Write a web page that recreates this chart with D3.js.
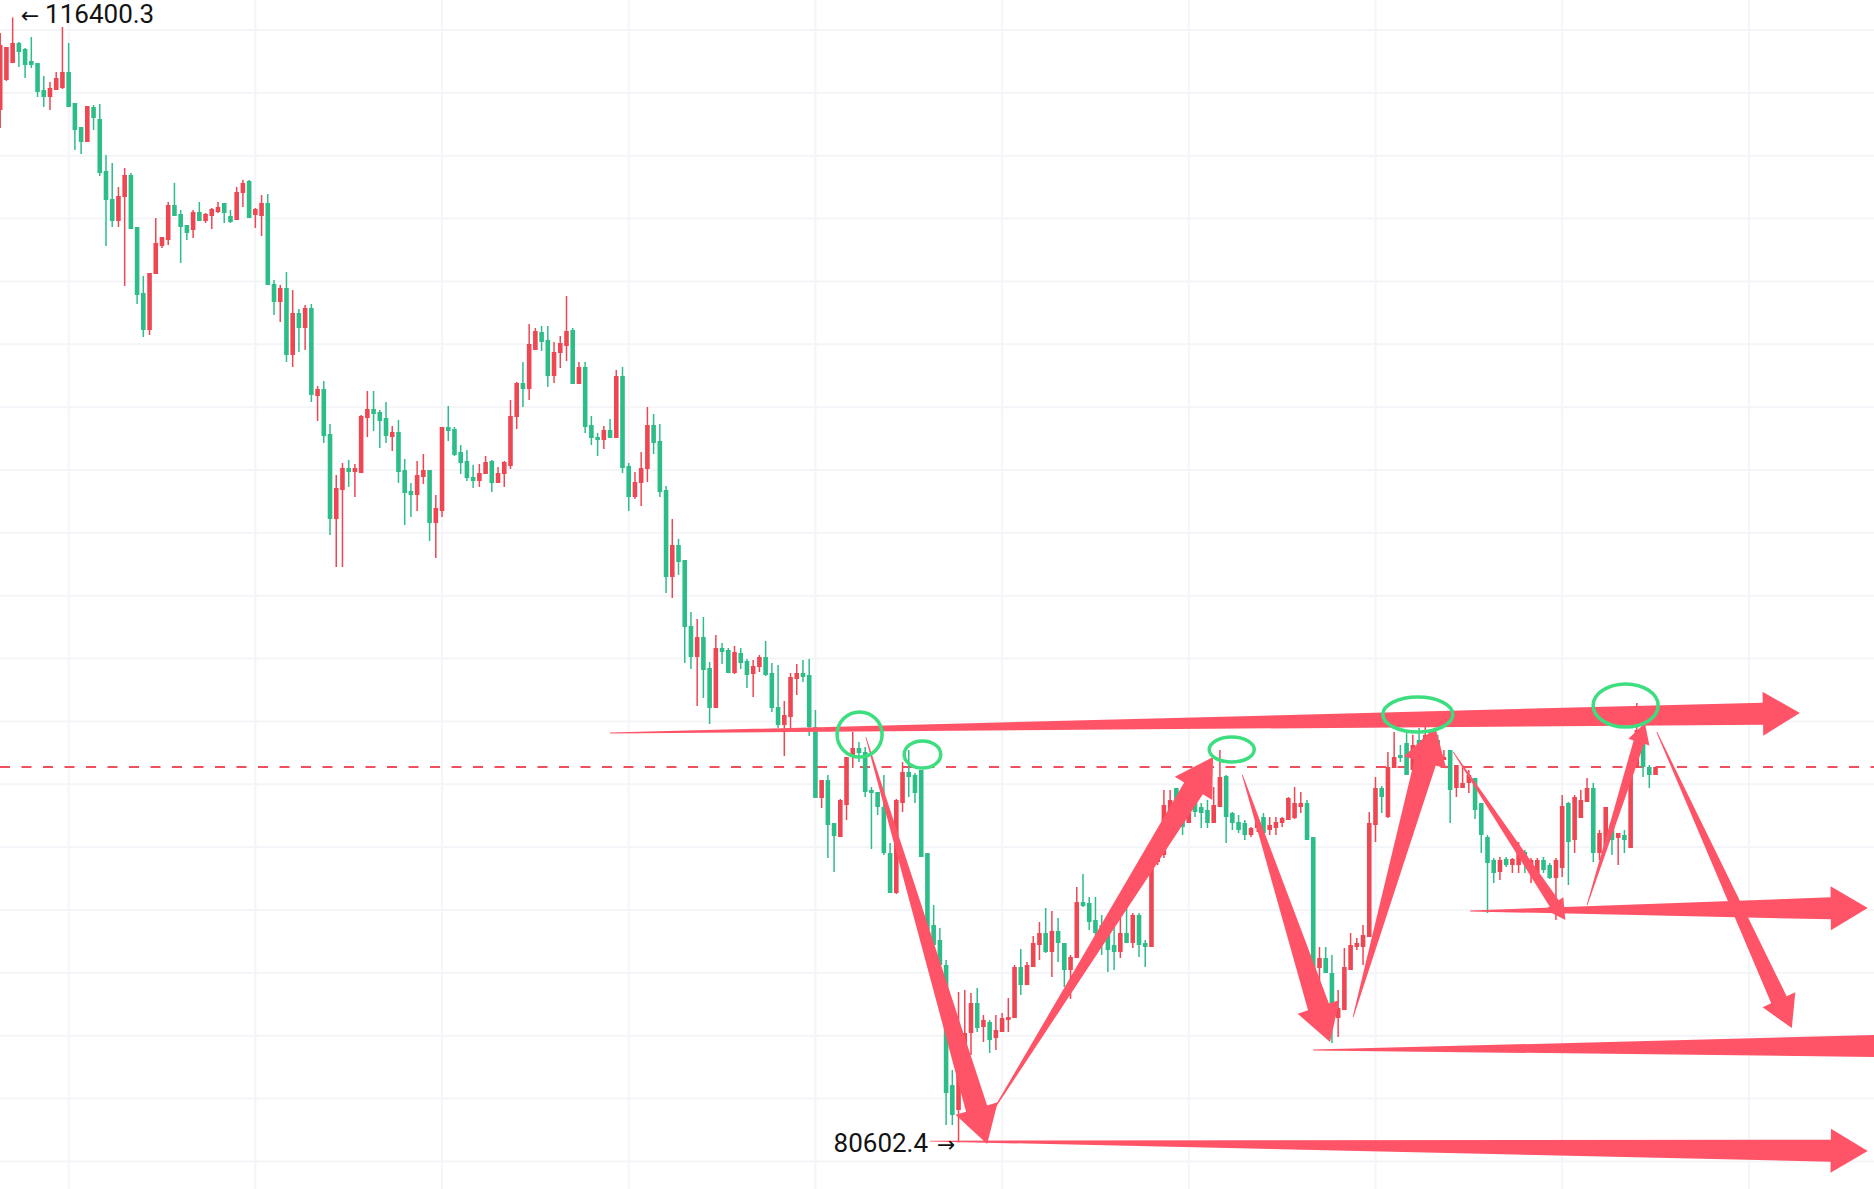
<!DOCTYPE html>
<html><head><meta charset="utf-8">
<script src="https://cdn.jsdelivr.net/npm/d3@7"></script>
<style>html,body{margin:0;padding:0;background:#fff;overflow:hidden}svg{display:block}</style>
</head><body>
<svg id="chart" width="1874" height="1189"></svg>
<script>
// ---- OHLC data (267 bars) ----
const open=[113455,114409,114950,115587,115396,115014,114950,114091,113868,114091,114155,114664,113677,112914,112437,113550,113168,111514,110623,109923,110686,111387,109732,107632,106454,108236,109127,109318,110432,110146,109796,109636,110209,109923,110082,110209,110496,110082,109955,110814,111196,110114,110082,110496,107918,107345,107791,105659,106995,106518,107155,104354,104577,103145,100440,101363,102063,101936,101904,103654,103941,103845,103654,103050,103209,101999,101332,101204,101777,101999,100313,100695,103368,103304,102573,102286,101777,101650,101872,102286,101586,101872,102127,103686,104768,104577,105818,106391,106136,104991,105722,105945,106454,104736,105277,103432,103050,102954,103273,103018,104991,102127,101141,101586,102031,103432,102922,101363,98595,99613,99136,97036,96050,96686,95699,94427,96336,96272,95540,96177,95922,95509,95731,96050,95540,94458,93886,94140,95350,95540,95477,93822,91563,92135,90767,90321,91340,92867,93153,93026,91818,91754,91277,89812,88540,91404,92390,92295,92454,89812,87521,87044,86249,82430,81635,83321,84085,85040,84276,84435,83926,84117,84499,84562,86185,85612,86185,86886,87267,86663,87331,86949,86090,86472,88253,88222,87681,87521,87267,86886,86663,87267,86949,87840,86949,86822,89526,89749,91022,91881,91181,90767,91595,91277,91181,90767,91277,92263,91086,90799,90767,90385,90608,90958,90544,90608,90767,90863,90927,91277,91404,90321,86153,86472,85994,84562,84817,86090,86822,86822,87140,90704,91881,90958,92517,92931,93313,92454,93408,92931,93663,93408,92772,93090,91881,91881,92040,92199,91404,90321,89590,89207,89622,89430,89430,89844,89176,89176,89590,89430,89017,89335,91404,90226,90927,91436,91881,89812,90003,90767,90290,90385,89971,92549,93504,92549,92295];
const high=[115905,115459,116400.3,115619,115428,115778,114950,114537,114346,114664,116096,115587,113677,112914,113582,113614,113646,112023,111768,111005,111609,111450,109732,108173,108268,110018,109414,110527,111132,110273,109796,110273,110527,110177,110337,110527,110496,110273,111005,111227,111227,110337,110750,110782,108045,107886,108300,107727,107123,107250,107282,104673,104832,103464,101841,102222,102318,102191,103750,104514,104514,103909,104164,103400,103591,102350,101586,102286,102509,101999,101204,103368,104036,103368,102795,102636,102159,102191,102445,102318,102095,102286,104227,104800,105436,106645,106518,106582,106582,106073,106264,107536,106518,105436,105436,103718,103177,103400,103623,105182,105277,102222,101936,102573,104004,103782,103464,101491,100440,99804,99136,97481,97259,97322,95890,96749,96495,96336,96400,96336,95985,95954,96113,96559,95858,95795,94649,95540,95827,95954,95985,94363,92135,92295,90767,91531,92867,93663,93344,93185,91913,91754,92295,90131,91531,92708,93090,92358,92454,89812,88158,87426,86408,82908,85390,85453,85358,85517,84658,84499,84658,84721,85199,86249,86758,86344,87172,87617,88063,87968,87744,86949,86567,88731,89144,88413,88413,87840,87521,87458,87904,88158,87904,87904,87044,89590,90067,91818,91818,91881,91181,91595,91722,91404,91499,91913,93090,92295,91117,91022,90863,90640,91022,91086,90958,90958,90958,91595,91913,91754,91499,90321,86822,86822,86567,85453,86790,87267,87108,87521,91117,92231,91945,93026,93663,93249,93663,93572,93790,93822,93726,93572,93090,93090,92613,92613,92454,92199,91404,90385,89653,89685,89685,89653,90162,89908,89653,89653,89685,89494,89653,91659,91436,91659,91818,92199,92040,90544,91277,90767,90449,90544,92677,94586,93822,92613,92549];
const low=[112882,114378,114950,114823,114473,114791,113868,113550,113455,114091,114123,113550,112182,112055,112437,112818,111355,109127,109732,109732,107855,109668,107282,106232,106296,108236,109064,109159,110082,108586,109318,109382,109923,109859,109668,110177,109859,109859,109955,110368,110018,109700,109445,107886,106932,106709,105436,105277,105754,105818,104164,103559,102859,99931,98913,98913,101459,101141,101904,103050,103241,102700,102859,102604,101586,100250,100504,100695,101554,99740,99199,100504,102922,102445,101872,101650,101427,101459,101872,101300,101586,101459,102031,103304,104004,104227,105818,105786,104641,104768,105245,105468,104736,104736,103177,102795,102445,102668,103018,103018,101904,100695,101077,100854,101618,102509,101141,98086,97927,98659,95858,95667,94490,94745,93918,94427,95827,95540,95509,95667,95063,94777,95572,95445,94299,93790,92899,93790,94840,95254,93536,91563,91245,89653,89207,90321,90863,92517,92708,91595,89940,91022,89749,88540,88508,91117,91595,91404,89685,86726,86726,86090,81157,81157,80602.4,83321,83385,84117,83799,83449,83544,84117,84117,84562,85294,85612,86185,86408,86631,85867,86344,85549,85167,86472,88094,87362,86822,86567,86026,86090,86472,86949,86790,86503,86185,86822,89430,89653,90958,90958,90385,90767,90958,90608,90608,90767,91277,90131,90544,90449,90226,90321,90481,90131,90385,90385,90640,90863,90895,91086,90226,86026,85708,85994,83767,83958,84817,86090,86726,86249,87140,90162,91086,90927,92517,92708,92295,92295,92454,92772,92708,92613,92772,90767,91595,91881,91722,90895,89812,87904,88857,88953,89367,89176,89176,89176,88857,88953,89176,88985,87681,89049,88794,89812,90927,91436,89526,89590,89908,89749,89430,89812,89971,92517,92231,91881,92295];
const close=[115523,115459,115587,115300,114887,114887,114028,113868,114155,114473,114664,113550,112818,112437,113582,113200,111450,110591,109923,110718,111387,109668,107568,106454,108268,109223,109414,110432,110082,109732,109541,110209,109923,110146,110305,110368,110177,109891,110846,111132,110018,110305,110496,107886,107345,107791,105659,106995,106518,107155,104386,104577,103082,100440,101427,102063,101936,102063,103718,103941,103782,103559,103082,103209,101936,101268,101204,101841,101999,100313,100790,103368,103241,102477,102222,101745,101650,101904,102254,101586,101904,102254,103718,104768,104577,106009,106422,106073,104991,105754,106041,106422,104736,105277,103368,103018,102954,103273,103018,104991,102063,101141,101618,102063,103432,102859,101300,98595,99613,99072,97004,96050,96686,95636,94427,96336,96209,95540,96209,95858,95477,95763,96050,95477,94427,93886,94204,95413,95540,95413,93822,91563,92135,90704,90353,91499,92867,93153,92995,91754,91722,91277,89812,88540,91499,92390,92231,91722,89685,87362,86886,86249,82176,81476,83862,84085,85040,84244,84499,83862,84181,84562,84594,86185,85612,86249,86949,87267,86663,87331,86949,86090,86503,88253,88126,87617,87267,87044,86726,86663,87267,86949,87840,86886,86822,89590,89812,91340,91499,91277,90640,91181,91117,91086,90767,91340,92231,90958,90767,90544,90385,90608,90863,90449,90704,90799,90927,91563,91404,91404,90226,86090,86472,85994,84594,84880,86185,86886,86949,87203,90767,91881,91595,92549,92867,92836,92295,93249,92772,93572,92995,92677,92867,91818,92613,92040,92295,91181,90385,89494,89176,89590,89430,89622,89844,89494,89590,89590,89271,89017,89590,91308,90162,91595,91499,91881,89812,90449,91277,90226,90449,90226,92613,93726,92549,92295,92549];

// price grid (every 2000) and time grid (every 30 bars)
const priceGrid=d3.range(80000,116001,2000);
const timeGrid=d3.range(11,300,30);

// hand-drawn annotations, in (bar index, price)
const arrowStart=[[98.0,93631],[236.2,87967],[211.0,83544],[149.4,80648],[139.1,93504],[159.4,81571],[199.6,92295],[217.4,84594],[233.5,93026],[255.0,88158],[266.2,93663]];
const arrowEnd=[[289.2,94267],[300.1,88062],[307.7,83681],[300.1,80330],[158.6,80553],[194.9,92867],[213.7,83799],[230.6,93822],[251.5,87681],[264.3,93949],[287.9,84244]];
const arrowKind=["big","big","big","big","big","big","big","big","thin","thin","mid"];
const ringCenter=[[138.1,93583],[148.2,92947],[197.9,93106],[227.8,94220],[261.2,94506]];

// ---- styles ----
const W=1874,H=1189;
const UP="#ef4653", DOWN="#2dbd88", ANNO="#ff5467", RING="#3cde80", GRID="#f3f5f8";
const arrowSize={big:{w:22,hw:44,hl:37},mid:{w:17,hw:36,hl:31},thin:{w:11,hw:22,hl:20}};
const ringRadius=[[22.5,22.5],[18.3,13.5],[22.5,12.5],[35,17.5],[32.5,21.5]];

const svg=d3.select("#chart");
svg.append("rect").attr("width",W).attr("height",H).attr("fill","#fff");
const x=d3.scaleLinear().domain([0,300]).range([0.2,1867.1]);
const y=d3.scaleLinear().domain([80000,116000]).range([1161.4,30]);

// grid
svg.append("g").selectAll("line").data(priceGrid).join("line")
  .attr("x1",0).attr("x2",W).attr("y1",d=>y(d)).attr("y2",d=>y(d))
  .attr("stroke",GRID).attr("stroke-width",2);
svg.append("g").selectAll("line").data(timeGrid).join("line")
  .attr("y1",0).attr("y2",H).attr("x1",d=>x(d)).attr("x2",d=>x(d))
  .attr("stroke",GRID).attr("stroke-width",2);

// last price line
const last=close[close.length-1];
svg.append("line").attr("x1",0).attr("x2",W).attr("y1",y(last)).attr("y2",y(last))
  .attr("stroke","#f0505e").attr("stroke-width",2).attr("stroke-dasharray","10,11.5");

// candles
const idx=d3.range(open.length);
const g=svg.append("g");
g.selectAll("line").data(idx).join("line")
  .attr("x1",i=>x(i)).attr("x2",i=>x(i))
  .attr("y1",i=>y(high[i])).attr("y2",i=>y(low[i]))
  .attr("stroke",i=>close[i]>=open[i]?UP:DOWN).attr("stroke-width",1.5);
g.selectAll("rect").data(idx).join("rect")
  .attr("x",i=>x(i)-2.3).attr("width",4.6)
  .attr("y",i=>y(Math.max(open[i],close[i])))
  .attr("height",i=>Math.max(1,Math.abs(y(open[i])-y(close[i]))))
  .attr("fill",i=>close[i]>=open[i]?UP:DOWN);

// arrows
function arrowPath(s,t,k){
  const sx=x(s[0]),sy=y(s[1]),tx=x(t[0]),ty=y(t[1]);
  const dx=tx-sx,dy=ty-sy,L=Math.hypot(dx,dy),ux=dx/L,uy=dy/L,nx=-uy,ny=ux;
  const {w,hw,hl}=arrowSize[k];
  const bx=tx-ux*hl,by=ty-uy*hl;
  return d3.line()([[sx+nx*0.4,sy+ny*0.4],[bx+nx*w/2,by+ny*w/2],[bx+nx*hw/2,by+ny*hw/2],[tx,ty],
    [bx-nx*hw/2,by-ny*hw/2],[bx-nx*w/2,by-ny*w/2],[sx-nx*0.4,sy-ny*0.4]])+"Z";
}
svg.append("g").selectAll("path").data(d3.range(arrowStart.length)).join("path")
  .attr("d",i=>arrowPath(arrowStart[i],arrowEnd[i],arrowKind[i]))
  .attr("fill",ANNO);

// rings
svg.append("g").selectAll("ellipse").data(d3.range(ringCenter.length)).join("ellipse")
  .attr("cx",i=>x(ringCenter[i][0])).attr("cy",i=>y(ringCenter[i][1]))
  .attr("rx",i=>ringRadius[i][0]).attr("ry",i=>ringRadius[i][1])
  .attr("fill","none").attr("stroke",RING).attr("stroke-width",3.5);

// high / low labels
const fmt=d3.format(".1f");
const iMax=d3.maxIndex(high), iMin=d3.minIndex(low);
const FONT="Roboto, 'Noto Sans', sans-serif", ARW="'DejaVu Sans', sans-serif";
const tHi=svg.append("text").attr("x",x(iMax)+8).attr("y",y(high[iMax])+6)
  .attr("font-family",FONT).attr("font-size",26).attr("fill","#131313");
tHi.append("tspan").attr("font-family",ARW).attr("font-size",22).text("\u2190");
tHi.append("tspan").attr("dx",6).text(fmt(high[iMax]));
const tLo=svg.append("text").attr("x",x(iMin)-3).attr("y",y(low[iMin])+10).attr("text-anchor","end")
  .attr("font-family",FONT).attr("font-size",26).attr("fill","#131313");
tLo.append("tspan").text(fmt(low[iMin]));
tLo.append("tspan").attr("dx",9).attr("font-family",ARW).attr("font-size",22).text("\u2192");
</script>
</body></html>
